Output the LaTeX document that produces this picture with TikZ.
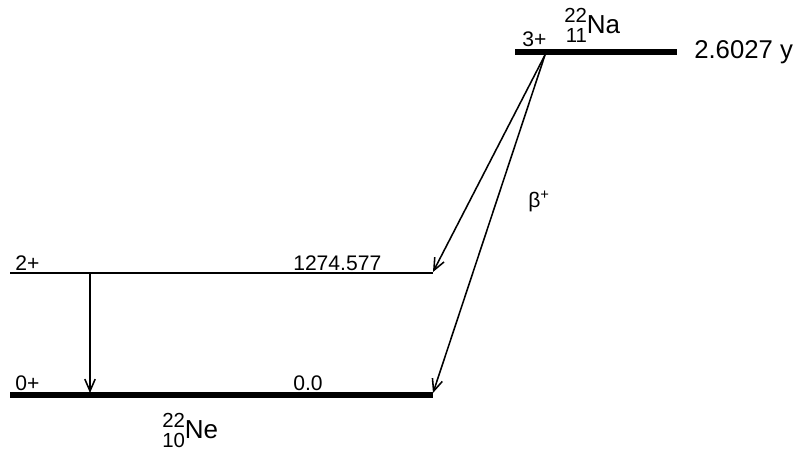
\documentclass[tikz,border=0pt]{standalone}
\usepackage{fontspec}
\setmainfont{Liberation Sans}
\usetikzlibrary{arrows.meta}
\newcommand{\nuc}[3]{{\fontsize{14.5pt}{12pt}\selectfont\begin{tabular}{@{}r@{}}#1\\#2\end{tabular}}#3}
\tikzset{
 level/.style={line width=3.8pt},
 thinlevel/.style={line width=1.1pt},
 trans/.style={line width=1.1pt,->},
 lab/.style={anchor=base west,inner sep=0pt,font=\fontsize{15pt}{17pt}\selectfont},
 big/.style={anchor=base west,inner sep=0pt,font=\fontsize{18.5pt}{21pt}\selectfont}}

\begin{document}
\begin{tikzpicture}[x=0.025cm,y=-0.025cm,>={Straight Barb[length=3mm,width=2.6mm]}]
\useasboundingbox (0,0) rectangle (798,450);
\draw[level] (515,52) -- (677,52);
\draw[thinlevel] (10,273) -- (433,273);
\draw[level] (10,395) -- (433,395);
\coordinate (na) at (545,55);
\coordinate (exc) at (433,272);
\coordinate (gnd) at (433,393);
\coordinate (gtop) at (90,273);
\coordinate (gbot) at (90,393);
\draw[trans] (na) -- (exc);
\draw[trans] (na) -- (gnd);
\draw[trans] (gtop) -- (gbot);
\node[lab] (spinNa) at (522,46) {3+};
\node[big] (Na) at (564,33) {\nuc{22}{11}{Na}};
\node[big,font=\fontsize{18.3pt}{20pt}\selectfont] (half) at (694,58) {2.6027 y};
\node[lab] (beta) at (528,207) {β\textsuperscript{+}};
\foreach \y/\s/\e/\n in {270/2+/1274.577/exc,390/0+/0.0/gnd} {
 \node[lab] (spin\n) at (15,\y) {\s};
 \node[lab] (en\n) at (293,\y) {\e};
}
\node[big] (Ne) at (162,438) {\nuc{22}{10}{Ne}};
\end{tikzpicture}
\end{document}
